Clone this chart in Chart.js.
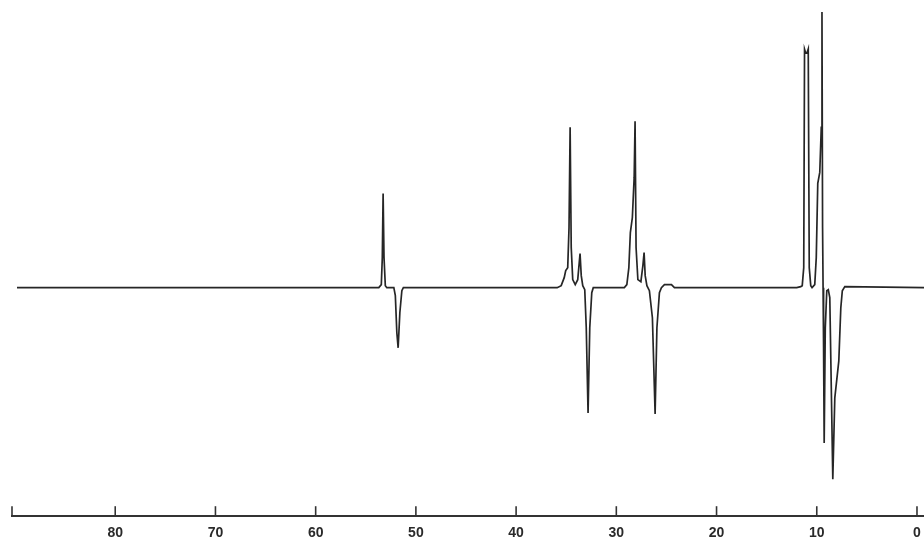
<!DOCTYPE html>
<html>
<head>
<meta charset="utf-8">
<script src="https://cdn.jsdelivr.net/npm/chart.js@4"></script>
<style>
  html, body { margin: 0; padding: 0; background: #fff; }
  #wrap { width: 924px; height: 545px; position: relative; }
</style>
</head>
<body>
<div id="wrap"><canvas id="spec"></canvas></div>
<script>
// chemical shift (ppm) and signal (arbitrary units, 0 = baseline)
const shift = [
  89.8, 70, 54.0,
  53.7, 53.45, 53.35, 53.27, 53.18, 53.05, 52.9,
  52.2, 52.05, 51.9, 51.77, 51.6, 51.4, 51.25,
  40, 35.9, 35.5, 35.2, 35.05, 34.85, 34.72, 34.61, 34.5, 34.35,
  34.1, 33.85, 33.7, 33.62, 33.5, 33.35,
  33.15, 33.0, 32.82, 32.65, 32.45, 32.3,
  29.2, 28.95, 28.75, 28.6, 28.4, 28.22, 28.13, 28.03, 27.85,
  27.55, 27.35, 27.23, 27.12, 26.95,
  26.7, 26.4, 26.13, 25.95, 25.7, 25.5, 25.2, 24.5, 24.2,
  12.0, 11.6, 11.45, 11.3, 11.22, 11.1, 10.98, 10.85, 10.75, 10.6,
  10.47, 10.2, 10.05, 9.9, 9.7, 9.55, 9.48, 9.42, 9.37,
  9.32, 9.26, 9.15, 9.0, 8.85,
  8.7, 8.55, 8.4, 8.2, 7.8, 7.6, 7.45, 7.2, -0.7
];
const signal = [
  0, 0, 0,
  0, 3, 30, 94, 30, 2, 0,
  0, -8, -45, -60, -25, -3, 0,
  0, 0, 2, 10, 17, 20, 60, 160, 40, 8,
  3, 8, 25, 34, 12, 2,
  -2, -40, -125, -40, -5, 0,
  0, 3, 20, 55, 70, 110, 166, 40, 8,
  6, 22, 35, 12, 2,
  -3, -30, -126, -40, -5, 0, 3, 3, 0,
  0, 1, 2, 20, 238, 234, 234, 238, 20, 2,
  0, 3, 30, 104, 115, 160, 275, 60, 0,
  -60, -155, -40, -3, -2,
  -10, -100, -191, -110, -73, -20, -3, 1, 0
];
const tickValues = [0, 10, 20, 30, 40, 50, 60, 70, 80];
const axisEnd = 90.3;

const points = shift.map((s, i) => ({ x: s, y: signal[i] }));

// tick marks point up from the axis line, like the printed ruler
const upTicks = {
  id: 'upTicks',
  afterDraw(chart) {
    const sc = chart.scales.x;
    const ctx = chart.ctx;
    ctx.save();
    ctx.strokeStyle = '#333';
    ctx.lineWidth = 1.6;
    sc.ticks.forEach(t => {
      const px = sc.getPixelForValue(t.value);
      ctx.beginPath();
      ctx.moveTo(px, sc.top);
      ctx.lineTo(px, sc.top - 10);
      ctx.stroke();
    });
    ctx.restore();
  }
};

new Chart(document.getElementById('spec'), {
  type: 'line',
  data: {
    datasets: [{
      data: points,
      borderColor: '#262626',
      borderWidth: 1.7,
      pointRadius: 0,
      tension: 0,
      fill: false
    }]
  },
  options: {
    responsive: true,
    maintainAspectRatio: false,
    animation: false,
    layout: { padding: { left: 12, right: 0, top: 0, bottom: -6 } },
    plugins: { legend: { display: false }, tooltip: { enabled: false } },
    scales: {
      x: {
        type: 'linear',
        reverse: true,
        min: -0.7,
        max: axisEnd,
        afterBuildTicks(scale) {
          scale.ticks = tickValues.concat([axisEnd]).map(v => ({ value: v }));
        },
        grid: { display: true, drawOnChartArea: false, drawTicks: false },
        border: { display: true, color: '#333', width: 2 },
        ticks: {
          autoSkip: false,
          maxRotation: 0,
          padding: 9,
          color: '#2a2a2a',
          font: { family: 'Liberation Sans', size: 14, weight: 'bold' },
          callback: v => (tickValues.includes(v) ? String(v) : '')
        }
      },
      y: {
        display: false,
        min: -228,
        max: 287
      }
    }
  },
  plugins: [upTicks]
});
</script>
</body>
</html>
